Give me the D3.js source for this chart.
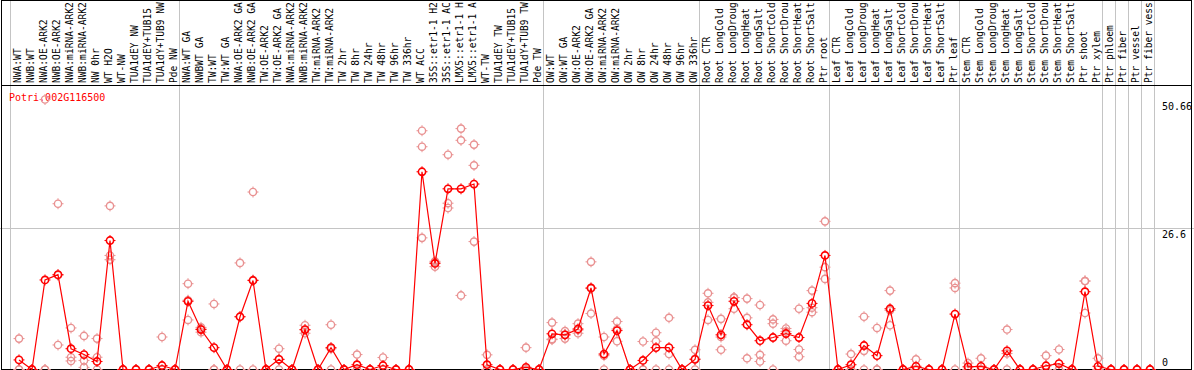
<!DOCTYPE html>
<html>
<head>
<meta charset="utf-8">
<script src="https://cdn.jsdelivr.net/npm/d3@7"></script>
<style>
  body { margin: 0; background: #fff; }
  svg { display: block; }
  text { font-family: "DejaVu Sans Mono", monospace; font-size: 10px; }
  text.lab { font-size: 9.6px; }
</style>
</head>
<body>
<div id="chart"></div>
<script>
let width = 1194, height = 370;

let geneId = "Potri.002G116500";

let labels = [
  "NWA:WT", "NWB:WT", "NWA:OE-ARK2", "NWB:OE-ARK2", "NWA:miRNA-ARK2", "NWB:miRNA-ARK2",
  "NW 0hr", "WT H2O", "WT-NW", "TUA1dEY NW", "TUA1dEY+TUB15 NW", "TUA1dY+TUB9 NW", "Pde NW",
  "NWA:WT GA", "NWBWT GA", "TW:WT", "TW:WT GA", "NWA:OE-ARK2 GA", "NWB:OE-ARK2 GA",
  "TW:OE-ARK2", "TW:OE-ARK2 GA", "NWA:miRNA-ARK2 GA", "NWB:miRNA-ARK2 GA", "TW:miRNA-ARK2",
  "TW:miRNA-ARK2 GA", "TW 2hr", "TW 8hr", "TW 24hr", "TW 48hr", "TW 96hr", "TW 336hr",
  "WT ACC", "35S::etr1-1 H2O", "35S::etr1-1 ACC", "LMX5::etr1-1 H2O", "LMX5::etr1-1 ACC",
  "WT-TW", "TUA1dEY TW", "TUA1dEY+TUB15 TW", "TUA1dY+TUB9 TW", "Pde TW",
  "OW:WT", "OW:WT GA", "OW:OE-ARK2", "OW:OE-ARK2 GA", "OW:miRNA-ARK2", "OW:miRNA-ARK2 GA",
  "OW 2hr", "OW 8hr", "OW 24hr", "OW 48hr", "OW 96hr", "OW 336hr",
  "Root CTR", "Root LongCold", "Root LongDrought", "Root LongHeat", "Root LongSalt",
  "Root ShortCold", "Root ShortDrought", "Root ShortHeat", "Root ShortSalt", "Ptr root",
  "Leaf CTR", "Leaf LongCold", "Leaf LongDrought", "Leaf LongHeat", "Leaf LongSalt",
  "Leaf ShortCold", "Leaf ShortDrought", "Leaf ShortHeat", "Leaf ShortSalt", "Ptr leaf",
  "Stem CTR", "Stem LongCold", "Stem LongDrought", "Stem LongHeat", "Stem LongSalt",
  "Stem ShortCold", "Stem ShortDrought", "Stem ShortHeat", "Stem ShortSalt", "Ptr shoot",
  "Ptr xylem", "Ptr phloem", "Ptr fiber", "Ptr vessel", "Ptr fiber vessel"
];

// mean expression per sample
let means = [
  1.8, 0, 16.8, 17.8, 3.9, 2.8, 1.5, 24.2, 0, 0, 0, 0.75, 0,
  12.8, 7.5, 4.1, 0, 9.9, 16.7, 0, 1.9, 0, 7.5, 0, 4.1, 0, 0.9, 0, 0.75, 0, 0,
  37.1, 19.9, 33.9, 33.9, 34.8, 0.9, 0, 0, 0.4, 0,
  6.7, 6.5, 7.6, 15.3, 2.9, 7.3, 0, 1.7, 4.1, 4.1, 0, 1.9,
  12.0, 6.5, 12.8, 8.4, 5.4, 6.0, 6.75, 6.0, 12.4, 21.4,
  0, 0.9, 4.5, 2.6, 11.4, 0, 0.6, 0, 0, 10.4,
  0.5, 0.6, 0, 3.5, 0, 0, 0.7, 1.1, 0, 14.6, 0.6,
  0, 0, 0, 0
];

// single replicates per sample
let replicates = [
  [5.8, 0, 0], [0, 0, 0], [50.66, 0, 0], [31.1, 17.7, 4.6], [7.8, 2.3, 1.6], [6.3, 1.7, 0.4],
  [5.8, 2.3, 0], [30.7, 21.4, 20.6], [0, 0, 0], [0, 0, 0], [0, 0, 0], [6.1, 0, 0], [0, 0, 0],
  [16.1, 13.0, 9.3], [7.9, 7.6, 7.0], [12.3, 0, 0], [0, 0, 0], [20.0, 9.9, 0], [33.3, 16.8, 0],
  [0, 0, 0], [3.9, 1.9, 0], [0, 0, 0], [8.3, 7.4, 6.8], [0, 0, 0], [8.4, 3.9, 0], [0, 0, 0],
  [2.8, 0, 0], [0, 0, 0], [2.25, 0, 0], [0, 0, 0], [0, 0, 0],
  [44.8, 41.8, 24.7], [20.3, 20.1, 19.3], [40.3, 31.2, 30.3], [45.2, 43.0, 13.9], [42.2, 38.3, 24.0],
  [2.75, 0, 0], [0, 0, 0], [0, 0, 0], [4.1, 0, 0], [0, 0, 0],
  [8.8, 5.7, 5.6], [7.2, 6.5, 5.8], [8.6, 7.4, 6.8], [20.2, 15.2, 10.5], [6.1, 2.6, 0], [9.0, 7.6, 5.3],
  [0, 0, 0], [5.25, 0, 0], [6.9, 5.3, 0], [9.7, 2.9, 0], [0, 0, 0], [3.7, 2.0, 0],
  [14.3, 12.6, 9.3], [9.5, 6.1, 3.7], [13.5, 13.5, 11.4], [13.3, 9.7, 2.1], [12.1, 2.75, 1.5],
  [9.4, 8.6, 0], [7.7, 7.15, 5.4], [11.4, 3.75, 2.4], [14.8, 11.6, 10.75], [27.8, 19.2, 17.0],
  [0, 0, 0], [2.9, 0, 0], [9.9, 3.5, 0], [7.8, 0, 0], [14.8, 11.1, 8.3], [0, 0, 0], [1.9, 0, 0],
  [0, 0, 0], [0, 0, 0], [16.2, 15.3, 0],
  [1.2, 0, 0], [2.1, 0, 0], [0, 0, 0], [7.5, 3.0, 0], [0, 0, 0], [0, 0, 0], [2.6, 0, 0],
  [3.75, 0, 0], [0, 0, 0], [16.6, 16.6, 10.6], [2.1, 0, 0],
  [0, 0, 0], [0, 0, 0], [0, 0, 0], [0, 0, 0]
];

// column index where each sample group starts
let groupBreaks = [0, 13, 41, 53, 63, 73, 84, 85, 86, 87, 88];

let yTicks = [0, 26.6, 50.66];
let gridTicks = [26.6];

// the header only has room for 14 characters
let maxChars = 14;

let headerBottom = 85.5, plotBottom = 369.5;

let x = d3.scaleBand()
    .domain(d3.range(labels.length))
    .range([10.5, 10.5 + 13 * labels.length]);

let y = d3.scaleLinear()
    .domain([0, 50.66])
    .range([plotBottom, 99.5]);

let svg = d3.select("#chart").append("svg")
    .attr("width", width)
    .attr("height", height);

// vertical group separators (full height)
let breakX = i => i < labels.length ? x(i) : x.range()[1];
svg.selectAll("line.sep")
    .data(groupBreaks)
    .enter().append("line")
    .attr("class", "sep")
    .attr("x1", d => breakX(d)).attr("x2", d => breakX(d))
    .attr("y1", 0).attr("y2", height)
    .attr("stroke", "#c4c4c4")
    .attr("shape-rendering", "crispEdges");

// horizontal grid line
svg.selectAll("line.grid")
    .data(gridTicks)
    .enter().append("line")
    .attr("class", "grid")
    .attr("x1", 0).attr("x2", width)
    .attr("y1", d => Math.round(y(d)) + 0.5).attr("y2", d => Math.round(y(d)) + 0.5)
    .attr("stroke", "#c4c4c4")
    .attr("shape-rendering", "crispEdges");

// sample labels, rotated
svg.selectAll("text.lab")
    .data(labels)
    .enter().append("text")
    .attr("class", "lab")
    .attr("transform", (d, i) => `translate(${x(i) + 10.5},83) rotate(-90)`)
    .attr("fill", "#000")
    .text(d => d.slice(0, maxChars));

// frame
let frame = [
  [1.5, 0.5, width - 2.5, 0.5],
  [1.5, headerBottom, width - 2.5, headerBottom],
  [1.5, plotBottom, width - 2.5, plotBottom],
  [1.5, 0, 1.5, height],
  [width - 2.5, 0, width - 2.5, height]
];
svg.selectAll("line.frame")
    .data(frame)
    .enter().append("line")
    .attr("class", "frame")
    .attr("x1", d => d[0]).attr("y1", d => d[1])
    .attr("x2", d => d[2]).attr("y2", d => d[3])
    .attr("stroke", "#000")
    .attr("shape-rendering", "crispEdges");

// y labels on the right
svg.selectAll("text.ylab")
    .data(yTicks)
    .enter().append("text")
    .attr("class", "ylab")
    .attr("x", 1162)
    .attr("y", d => d === 0 ? y(d) - 4 : y(d) + 10)
    .attr("fill", "#000")
    .text(d => d);

// gene title
svg.append("text")
    .attr("x", 9)
    .attr("y", 101)
    .attr("fill", "#ff0000")
    .text(geneId);

// marker: circle with small ticks
function marker(g, color, sw) {
    g.append("circle")
        .attr("r", 3.6)
        .attr("fill", "none")
        .attr("stroke", color)
        .attr("stroke-width", sw);
    g.append("path")
        .attr("d", "M-5.5,0H-3.8M3.8,0H5.5M0,-5.5V-3.8M0,3.8V5.5")
        .attr("stroke", color)
        .attr("stroke-width", 1);
}

let px = i => x(i) + 8.5;

let repData = [];
replicates.forEach((r, i) => r.forEach(v => repData.push({ i: i, v: v })));

svg.append("g").selectAll("g")
    .data(repData)
    .enter().append("g")
    .attr("transform", d => `translate(${px(d.i)},${y(d.v)})`)
    .each(function() { marker(d3.select(this), "#e99292", 1.4); });

let line = d3.line()
    .x((d, i) => px(i))
    .y(d => y(d));

svg.append("path")
    .datum(means)
    .attr("d", line)
    .attr("fill", "none")
    .attr("stroke", "#ff0000")
    .attr("stroke-width", 1.2);

svg.append("g").selectAll("g")
    .data(means)
    .enter().append("g")
    .attr("transform", (d, i) => `translate(${px(i)},${y(d)})`)
    .each(function() { marker(d3.select(this), "#ff0000", 1.6); });
</script>
</body>
</html>
